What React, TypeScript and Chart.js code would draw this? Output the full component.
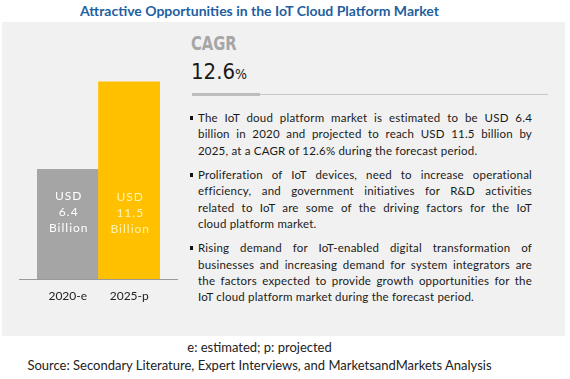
import React, { useEffect, useRef } from "react";
import { Chart, registerables } from "chart.js";

Chart.register(...registerables);

const categories = ["2020-e", "2025-p"];
const marketValues = [6.4, 11.5];
const barColors = ["#a5a5a5", "#ffc000"];
const labelColors = ["#ffffff", "#fff2b3"];
const yMax = 13;
const cagrValue = "12.6";

const paragraphs: string[][] = [
  [
    "The IoT doud platform market is estimated to be USD 6.4",
    "billion in 2020 and projected to reach USD 11.5 billion by",
    "2025, at a CAGR of 12.6% during the forecast period.",
  ],
  [
    "Proliferation of IoT devices, need to increase operational",
    "efficiency, and government initiatives for R&D activities",
    "related to IoT are some of the driving factors for the IoT",
    "cloud platform market.",
  ],
  [
    "Rising demand for IoT-enabled digital transformation of",
    "businesses and increasing demand for system integrators are",
    "the factors expected to provide growth opportunities for the",
    "IoT cloud platform market during the forecast period.",
  ],
];

const baselinePlugin = {
  id: "baselineExt",
  afterDatasetsDraw(chart: any) {
    const { ctx, chartArea } = chart;
    ctx.save();
    ctx.strokeStyle = "#9a9a9a";
    ctx.lineWidth = 1;
    ctx.beginPath();
    const y = Math.round(chartArea.bottom) + 0.5;
    ctx.moveTo(chartArea.left - 18, y);
    ctx.lineTo(chartArea.right + 18, y);
    ctx.stroke();
    ctx.restore();
  },
};

const barTextPlugin = {
  id: "barText",
  afterDatasetsDraw(chart: any) {
    const { ctx, chartArea } = chart;
    const meta = chart.getDatasetMeta(0);
    ctx.save();
    ctx.font = "12px Lato, 'Open Sans', sans-serif";
    (ctx as any).letterSpacing = "1px";
    ctx.textAlign = "center";
    ctx.textBaseline = "middle";
    meta.data.forEach((bar: any, i: number) => {
      ctx.fillStyle = labelColors[i];
      const lines = ["USD", String(marketValues[i]), "Billion"];
      const startY = chartArea.bottom - 83 + i * 1.5;
      lines.forEach((ln, k) => {
        ctx.fillText(ln, bar.x + 1, startY + k * 16);
      });
    });
    ctx.restore();
  },
};

function BarChart() {
  const ref = useRef<HTMLCanvasElement | null>(null);
  useEffect(() => {
    if (!ref.current) return;
    const chart = new Chart(ref.current, {
      type: "bar",
      data: {
        labels: categories,
        datasets: [
          {
            data: marketValues,
            backgroundColor: barColors,
            borderWidth: 0,
            barPercentage: 1,
            categoryPercentage: 1,
          },
        ],
      },
      options: {
        animation: false,
        responsive: false,
        layout: { padding: { left: 37, right: 30, top: 34, bottom: 13 } },
        plugins: { legend: { display: false }, tooltip: { enabled: false } },
        scales: {
          y: { display: false, min: 0, max: yMax },
          x: {
            grid: { display: false, drawTicks: false },
            border: { display: false },
            ticks: {
              padding: 10,
              color: "#222",
              font: { size: 12, family: "Lato, 'Open Sans', sans-serif" },
            },
            afterFit: (s: any) => {
              s.height = 30;
            },
          },
        },
      },
      plugins: [baselinePlugin, barTextPlugin],
    });
    return () => chart.destroy();
  }, []);
  return (
    <canvas
      ref={ref}
      width={190}
      height={300}
      style={{ position: "absolute", left: 0, top: 22, width: 190, height: 300 }}
    />
  );
}

export default function App() {
  const textFont = "Lato, 'Open Sans', sans-serif";
  return (
    <div style={{ position: "absolute", left: 0, top: 0, width: 570, height: 379, background: "#fff", overflow: "hidden" }}>
      <div
        style={{
          position: "absolute",
          left: 0,
          top: 2,
          width: 519,
          textAlign: "center",
          fontFamily: textFont,
          fontWeight: 700,
          fontSize: 14,
          lineHeight: "18px",
          color: "#1f5f9f",
        }}
      >
        Attractive Opportunities in the IoT Cloud Platform Market
      </div>
      <div style={{ position: "absolute", left: 2, top: 22, width: 563, height: 314, background: "#f1f1f1" }} />
      <BarChart />
      <div
        style={{
          position: "absolute",
          left: 191,
          top: 31,
          fontFamily: "'Liberation Sans Narrow', 'DejaVu Sans Condensed', sans-serif",
          fontWeight: 700,
          fontSize: 20,
          lineHeight: "24px",
          color: "#a6a6a6",
          transform: "scaleX(0.82)",
          transformOrigin: "left center",
        }}
      >
        CAGR
      </div>
      <div
        style={{
          position: "absolute",
          left: 191,
          top: 58,
          fontFamily: "'Liberation Sans Narrow', 'DejaVu Sans Condensed', sans-serif",
          fontSize: 22,
          lineHeight: "28px",
          color: "#1a1a1a",
        }}
      >
        {cagrValue}
        <span style={{ fontSize: 14 }}>%</span>
      </div>
      <div style={{ position: "absolute", left: 192, top: 94, width: 356, height: 1, background: "#c8c8c8" }} />
      <div style={{ position: "absolute", left: 192, top: 93, width: 68, height: 3, background: "#bdbdbd" }} />
      <div style={{ position: "absolute", left: 198, top: 110, width: 334, fontFamily: textFont, fontSize: 11.5, color: "#1a1a1a" }}>
        {paragraphs.map((p, pi) => (
          <div key={pi} style={{ position: "relative", marginBottom: 7.7 }}>
            <div style={{ position: "absolute", left: -8, top: 6, width: 3, height: 4, background: "#111" }} />
            {p.map((ln, li) => {
              const last = li === p.length - 1;
              return (
                <div
                  key={li}
                  style={{
                    lineHeight: "16.4px",
                    whiteSpace: "nowrap",
                    textAlign: last ? "left" : "justify",
                    textAlignLast: last ? "left" : "justify",
                    letterSpacing: "0.2px",
                  }}
                >
                  {ln}
                </div>
              );
            })}
          </div>
        ))}
      </div>
      <div
        style={{
          position: "absolute",
          left: 0,
          top: 338,
          width: 519,
          textAlign: "center",
          fontFamily: textFont,
          fontSize: 13,
          lineHeight: "18px",
          color: "#222",
        }}
      >
        <div>e: estimated; p: projected</div>
        <div>Source: Secondary Literature, Expert Interviews, and MarketsandMarkets Analysis</div>
      </div>
    </div>
  );
}
